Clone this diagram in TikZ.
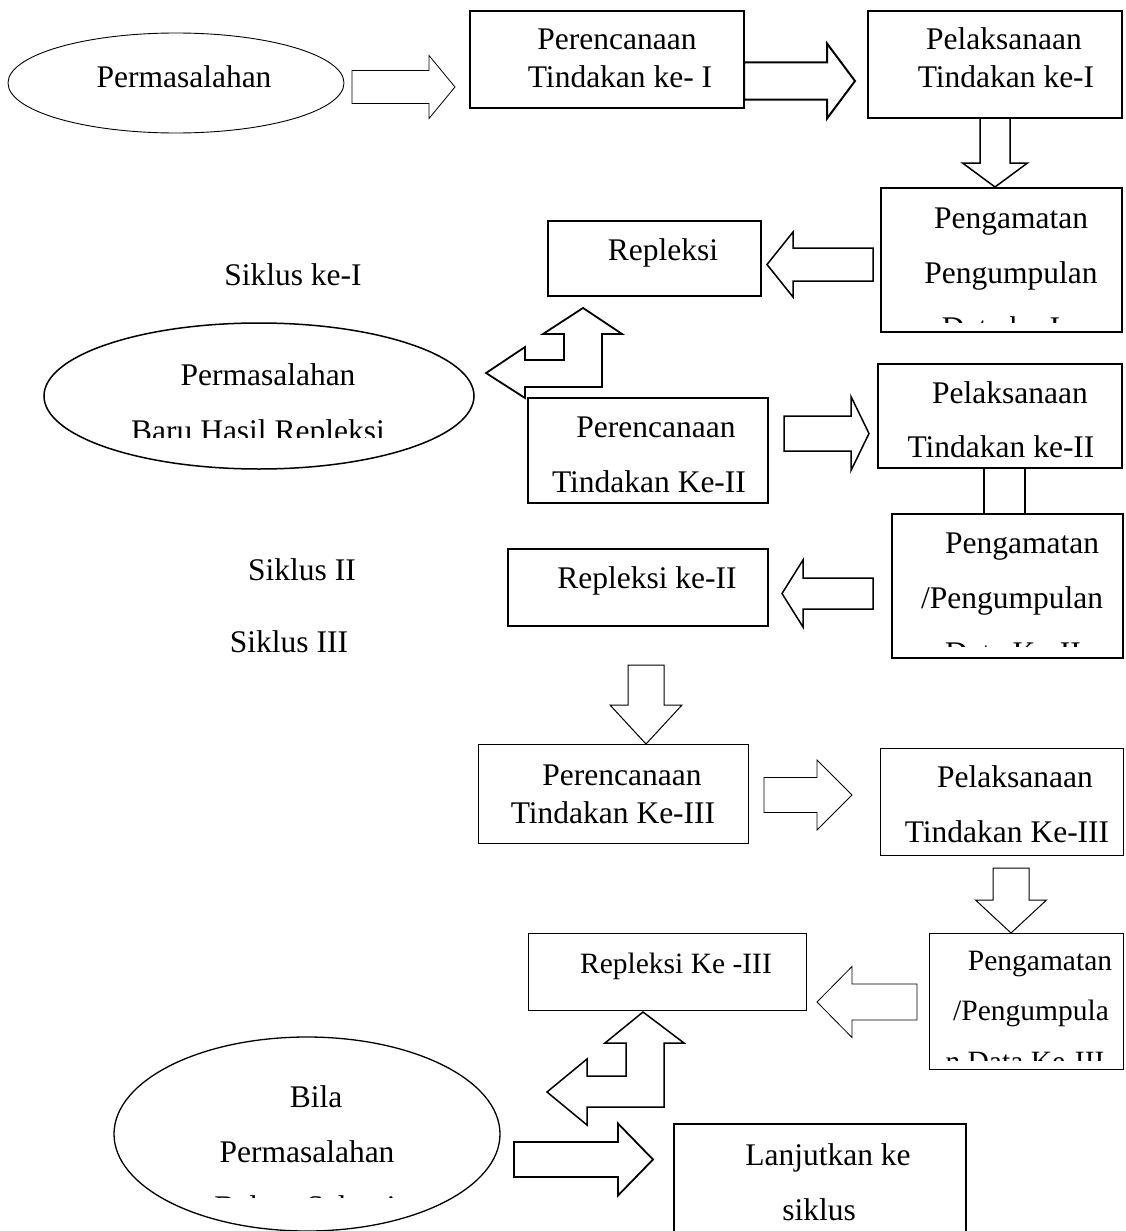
\documentclass[tikz,border=0pt]{standalone}
\usepackage{fontspec}
\setmainfont{Liberation Serif}
\usetikzlibrary{shapes.geometric}
\newcommand\fA{\fontsize{31.5}{38}\selectfont}
\newcommand\fB{\fontsize{29.5}{36}\selectfont}
% horizontal block arrow: x0 (tail), x1 (head base), xt (tip), cy, shaft half, head half, line width
\newcommand\harrow[7]{\draw[blk, line width=#7] (#1,#4-#5) -- (#2,#4-#5) -- (#2,#4-#6) -- (#3,#4) -- (#2,#4+#6) -- (#2,#4+#5) -- (#1,#4+#5) -- cycle;}
% vertical block arrow: cx, y0 (tail), y1 (head base), yt (tip), shaft half, head half, line width
\newcommand\varrow[7]{\draw[blk, line width=#7] (#1-#5,#2) -- (#1-#5,#3) -- (#1-#6,#3) -- (#1,#4) -- (#1+#6,#3) -- (#1+#5,#3) -- (#1+#5,#2) -- cycle;}
\begin{document}
\begin{tikzpicture}[x=1pt,y=-1pt,
  box/.style={draw, rectangle, inner sep=0pt, outer sep=0pt, anchor=north west},
  oval/.style={draw, ellipse, inner sep=0pt},
  txt/.style={anchor=base, inner sep=0pt, font=\fA},
  txtb/.style={anchor=base, inner sep=0pt, font=\fB},
  blk/.style={draw, fill=white, line join=miter, miter limit=10}]
\clip (0,0) rectangle (1125,1231);
\fill[white] (0,0) rectangle (1125,1231);

% ---- row 1 ----
\node[oval, minimum width=336pt, minimum height=100pt, line width=0.9pt] (e1) at (176,83) {};
\node[txt] (t1) at (184,88) {Permasalahan};
\harrow{352}{429}{455}{87}{16.5}{31.5}{0.8pt}
\node[box, minimum width=274pt, minimum height=97pt, line width=2pt] (p1) at (470,11) {};
\node[txt] (t2) at (617,50) {Perencanaan};
\node[txt] (t3) at (620,87) {Tindakan ke- I};
\harrow{744}{827}{855}{81}{18.5}{37.5}{2pt}
\node[box, minimum width=254pt, minimum height=107pt, line width=2pt] (x1) at (868,11) {};
\node[txt] (t4) at (1004,50) {Pelaksanaan};
\node[txt] (t5) at (1006,88) {Tindakan ke-I};
\varrow{995}{118}{163}{187}{15}{32.5}{1.5pt}

% ---- Pengamatan I / Repleksi ----
\node[box, minimum width=241pt, minimum height=144pt, line width=2pt] (g1) at (881,188) {};
\node[txt] (t6) at (1011,228) {Pengamatan};
\node[txt] (t7) at (1011,283) {Pengumpulan};
\begin{scope}
  \clip (881,188) rectangle (1122,322);
  \node[txt] (t8) at (1001,338) {Data ke-I};
\end{scope}
\harrow{873}{793}{767}{264.5}{16.5}{32.5}{1.5pt}
\node[box, minimum width=213pt, minimum height=75pt, line width=1.5pt] (r1) at (548,221) {};
\node[txt] (t9) at (663,260) {Repleksi};
\node[txt] (s1) at (293,285) {Siklus ke-I};

% bent arrow 1
\draw[blk, line width=1.8pt] (583,308) -- (622,334) -- (602,334) -- (602,387) -- (525,387) -- (525,398) -- (486,373) -- (525,347) -- (525,360) -- (564,360) -- (564,334) -- (543,334) -- cycle;

\node[oval, minimum width=430pt, minimum height=146pt, line width=1.5pt] (e2) at (259,396) {};
\node[txt] (t10) at (268,385) {Permasalahan};
\begin{scope}
  \clip (44,323) rectangle (473,437);
  \node[txt] (t11) at (258,441) {Baru Hasil Repleksi};
\end{scope}

% ---- cycle II ----
\node[box, minimum width=240pt, minimum height=105pt, line width=1.5pt] (p2) at (528,398) {};
\node[txt] (t12) at (656,437) {Perencanaan};
\node[txt] (t13) at (649,492) {Tindakan Ke-II};
\harrow{784}{851}{869}{433.5}{17.5}{37}{1.5pt}
\node[box, minimum width=244pt, minimum height=104pt, line width=2pt] (x2) at (878,364) {};
\node[txt] (t14) at (1010,403) {Pelaksanaan};
\node[txt] (t15) at (1001,457) {Tindakan ke-II};
\draw[line width=1.5pt] (984,468) -- (984,514) (1025,468) -- (1025,514);
\node[box, minimum width=231pt, minimum height=144pt, line width=2pt] (g2) at (892,514) {};
\node[txt] (t16) at (1022,553) {Pengamatan};
\node[txt] (t17) at (1012,608) {/Pengumpulan};
\begin{scope}
  \clip (892,514) rectangle (1123,646);
  \node[txt] (t18) at (1013,663) {Data Ke-II};
\end{scope}
\harrow{873}{803}{782}{593.5}{15.5}{33.5}{1.5pt}
\node[box, minimum width=260pt, minimum height=77pt, line width=2pt] (r2) at (508,549) {};
\node[txt] (t19) at (647,588) {Repleksi ke-II};
\node[txt] (s2) at (302,580) {Siklus II};
\node[txt] (s3) at (289,652) {Siklus III};
\varrow{646}{665}{705}{744}{18}{36}{1pt}

% ---- cycle III ----
\node[box, minimum width=270pt, minimum height=99pt, line width=1pt] (p3) at (478,744) {};
\node[txt] (t20) at (622,785) {Perencanaan};
\node[txt] (t21) at (613,823) {Tindakan Ke-III};
\harrow{764}{817}{852}{795}{17.5}{35}{0.8pt}
\node[box, minimum width=243pt, minimum height=107pt, line width=1pt] (x3) at (880,748) {};
\node[txt] (t22) at (1015,787) {Pelaksanaan};
\node[txt] (t23) at (1007,842) {Tindakan Ke-III};
\varrow{1011}{868}{900}{933}{18}{35.5}{1pt}
\node[box, minimum width=194pt, minimum height=136pt, line width=1pt] (g3) at (929,933) {};
\node[txtb] (t24) at (1040,970) {Pengamatan};
\node[txtb] (t25) at (1031,1020) {/Pengumpula};
\begin{scope}
  \clip (929,933) rectangle (1123,1060);
  \node[txtb] (t26) at (1025,1071) {n Data Ke-III};
\end{scope}
\harrow{917}{852}{817}{1002}{18}{35.5}{0.8pt}
\node[box, minimum width=278pt, minimum height=77pt, line width=1pt] (r3) at (528,933) {};
\node[txtb] (t27) at (676,973) {Repleksi Ke -III};

% bent arrow 2
\draw[blk, line width=1.5pt] (643,1012) -- (684,1043) -- (664,1043) -- (664,1107) -- (587,1107) -- (587,1125) -- (547,1092) -- (587,1059) -- (587,1076) -- (626,1076) -- (626,1043) -- (605,1043) -- cycle;

% ---- bottom ----
\node[oval, minimum width=386pt, minimum height=194pt, line width=1.3pt] (e3) at (307,1134) {};
\node[txt] (t28) at (316,1107) {Bila};
\node[txt] (t29) at (307,1162) {Permasalahan};
\begin{scope}
  \clip (114,1037) rectangle (500,1197);
  \node[txt] (t30) at (305,1217) {Belum Selesai};
\end{scope}
\harrow{514}{618}{653}{1159.5}{17.5}{36}{1.8pt}
\node[box, minimum width=292pt, minimum height=121pt, line width=1.8pt] (lj) at (674,1124) {};
\node[txt] (t31) at (828,1165) {Lanjutkan ke};
\node[txt] (t32) at (819,1220) {siklus};
\end{tikzpicture}
\end{document}
